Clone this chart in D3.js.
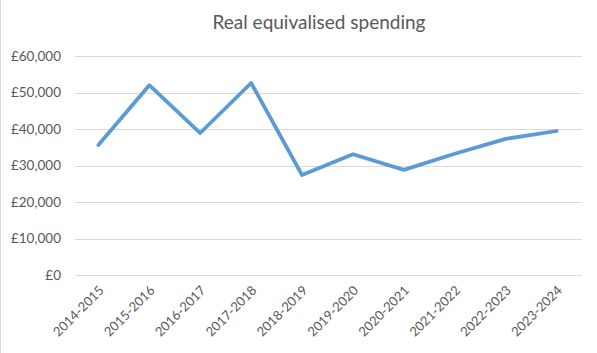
<!DOCTYPE html>
<html>
<head>
<script src="https://cdn.jsdelivr.net/npm/d3@7"></script>
<style>
html, body { margin: 0; padding: 0; background: #fff; }
#chart { width: 597px; height: 353px; }
text { font-family: "Lato", "Open Sans", sans-serif; fill: #595959; }
</style>
</head>
<body>
<div id="chart"></div>
<script>
// data
var years = ["2014-2015", "2015-2016", "2016-2017", "2017-2018", "2018-2019",
             "2019-2020", "2020-2021", "2021-2022", "2022-2023", "2023-2024"];
var spending = [35600, 52000, 38900, 52600, 27400, 33100, 28800, 33200, 37300, 39450];
var yTicks = [0, 10000, 20000, 30000, 40000, 50000, 60000];

var width = 597, height = 353;
var svg = d3.select("#chart").append("svg")
    .attr("width", width)
    .attr("height", height);

// chart border (only left edge visible in original)
svg.append("line")
    .attr("x1", 0.5).attr("x2", 0.5).attr("y1", 0).attr("y2", height)
    .attr("stroke", "#d9d9d9");

var xScale = d3.scalePoint().domain(years).range([98.4, 556.6]);
var yScale = d3.scaleLinear().domain([0, 60000]).range([275, 56]);

// gridlines
svg.append("g").selectAll("line")
    .data(yTicks)
    .enter().append("line")
    .attr("x1", 75).attr("x2", 582)
    .attr("y1", function(d){ return Math.round(yScale(d)) + 0.5; })
    .attr("y2", function(d){ return Math.round(yScale(d)) + 0.5; })
    .attr("stroke", "#d9d9d9")
    .attr("stroke-width", 1);

// y axis labels
var fmt = d3.format(",");
var yAxis = d3.axisLeft(yScale).tickValues(yTicks)
    .tickFormat(function(d){ return "£" + fmt(d); })
    .tickSize(0).tickPadding(0);
var yg = svg.append("g").attr("transform", "translate(61,0)").call(yAxis);
yg.select(".domain").remove();
yg.selectAll("text").attr("font-size", "13.5px").attr("font-family", "Lato, sans-serif").attr("fill", "#595959");

// x axis labels, rotated
var xAxis = d3.axisBottom(xScale).tickSize(0).tickPadding(0);
var xg = svg.append("g").call(xAxis);
xg.select(".domain").remove();
xg.selectAll(".tick").attr("transform", function(d){
    return "translate(" + (xScale(d) + 3) + ",288)";
});
xg.selectAll("text")
    .attr("font-size", "13px")
    .attr("font-family", "Lato, sans-serif")
    .attr("fill", "#595959")
    .attr("text-anchor", "end")
    .attr("x", 0).attr("y", 0).attr("dy", "0.35em")
    .attr("transform", "rotate(-45)");

// line
var line = d3.line()
    .x(function(d, i){ return xScale(years[i]); })
    .y(function(d){ return yScale(d); });
svg.append("path")
    .datum(spending)
    .attr("d", line)
    .attr("fill", "none")
    .attr("stroke", "#5b9bd5")
    .attr("stroke-width", 3.75)
    .attr("stroke-linejoin", "round")
    .attr("stroke-linecap", "round");

// title
svg.append("text")
    .attr("x", 319).attr("y", 29)
    .attr("text-anchor", "middle")
    .attr("font-size", "19px")
    .attr("fill", "#595959")
    .text("Real equivalised spending");
</script>
</body>
</html>
